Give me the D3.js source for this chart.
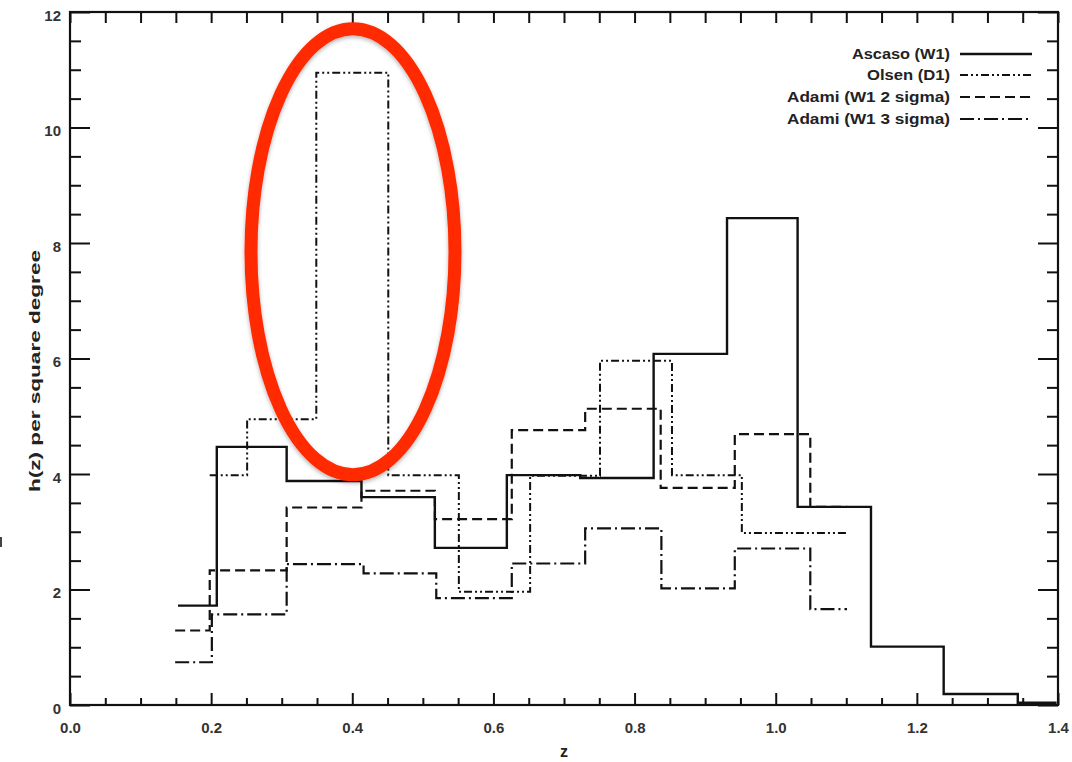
<!DOCTYPE html>
<html>
<head>
<meta charset="utf-8">
<script src="https://cdn.jsdelivr.net/npm/d3@7/dist/d3.min.js"></script>
<style>
  html, body { margin: 0; padding: 0; background: #fff; }
  svg { display: block; }
  .tick text { font-family: "Liberation Sans", Arial, sans-serif; fill: #333; font-weight: bold; }
</style>
</head>
<body>
<svg id="chart" width="1072" height="762"></svg>
<script>
// Cluster redshift distributions, h(z) per square degree, as step histograms.
// Each series: bin edges (z) and bin heights.
const ascasoEdges  = [0.153, 0.208, 0.307, 0.413, 0.517, 0.619, 0.723, 0.827, 0.931, 1.031, 1.135, 1.238, 1.343, 1.398];
const ascasoValues = [1.72, 4.47, 3.88, 3.60, 2.72, 3.98, 3.93, 6.08, 8.43, 3.43, 1.01, 0.19, 0.04];

const olsenEdges  = [0.198, 0.251, 0.349, 0.451, 0.551, 0.652, 0.751, 0.853, 0.952, 1.101];
const olsenValues = [3.98, 4.95, 10.95, 3.98, 1.96, 3.97, 5.96, 3.98, 2.98];

const adami2Edges  = [0.149, 0.198, 0.307, 0.413, 0.517, 0.626, 0.730, 0.837, 0.942, 1.049, 1.101];
const adami2Values = [1.29, 2.33, 3.42, 3.71, 3.22, 4.76, 5.13, 3.76, 4.69, 3.43];

const adami3Edges  = [0.149, 0.201, 0.307, 0.416, 0.519, 0.626, 0.730, 0.838, 0.942, 1.049, 1.101];
const adami3Values = [0.74, 1.57, 2.44, 2.28, 1.85, 2.45, 3.06, 2.02, 2.71, 1.66];

const legendLabels = ["Ascaso (W1)", "Olsen (D1)", "Adami (W1 2 sigma)", "Adami (W1 3 sigma)"];

const xMajorTicks = [0.0, 0.2, 0.4, 0.6, 0.8, 1.0, 1.2, 1.4];
const yMajorTicks = [0, 2, 4, 6, 8, 10, 12];
const xLabel = "z";
const yLabel = "h(z) per square degree";

const svg = d3.select("#chart");
const plotLeft = 70, plotRight = 1058, plotTop = 12, plotBottom = 705;

const x = d3.scaleLinear().domain([0, 1.4]).range([plotLeft, plotRight]);
const y = d3.scaleLinear().domain([0, 12]).range([plotBottom, plotTop]);

const xMinor = d3.range(0, 29).map(i => +(i * 0.05).toFixed(2)).filter(v => !xMajorTicks.some(m => Math.abs(m - v) < 1e-9));
const yMinor = d3.range(0, 25).map(i => i * 0.5).filter(v => v % 2 !== 0);

const font = '"Liberation Sans", Arial, sans-serif';

function styleAxis(g) {
  g.select(".domain").remove();
  g.selectAll(".tick line").attr("stroke", "#111").attr("stroke-width", 2);
}

// bottom axis: labelled majors + minors
svg.append("g").attr("transform", `translate(0,${plotBottom})`)
  .call(d3.axisBottom(x).tickValues(xMajorTicks).tickSize(-12).tickPadding(17).tickFormat(d3.format(".1f")))
  .call(styleAxis)
  .selectAll("text").attr("font-size", 15).attr("font-family", font);
svg.append("g").attr("transform", `translate(0,${plotBottom})`)
  .call(d3.axisBottom(x).tickValues(xMinor).tickSize(-7).tickFormat(""))
  .call(styleAxis);

// top axis
svg.append("g").attr("transform", `translate(0,${plotTop})`)
  .call(d3.axisTop(x).tickValues(xMajorTicks.concat(xMinor)).tickSize(-11).tickFormat(""))
  .call(styleAxis);

// left axis
svg.append("g").attr("transform", `translate(${plotLeft},0)`)
  .call(d3.axisLeft(y).tickValues(yMajorTicks).tickSize(-20).tickPadding(9).tickFormat(d3.format("d")))
  .call(styleAxis)
  .selectAll("text").attr("font-size", 15).attr("font-family", font).attr("dy", "0.55em");
svg.append("g").attr("transform", `translate(${plotLeft},0)`)
  .call(d3.axisLeft(y).tickValues(yMinor).tickSize(-11).tickFormat(""))
  .call(styleAxis);

// right axis
svg.append("g").attr("transform", `translate(${plotRight},0)`)
  .call(d3.axisRight(y).tickValues(yMajorTicks).tickSize(-20).tickFormat(""))
  .call(styleAxis);
svg.append("g").attr("transform", `translate(${plotRight},0)`)
  .call(d3.axisRight(y).tickValues(yMinor).tickSize(-11).tickFormat(""))
  .call(styleAxis);

// frame
svg.append("rect")
  .attr("x", plotLeft).attr("y", plotTop)
  .attr("width", plotRight - plotLeft).attr("height", plotBottom - plotTop)
  .attr("fill", "none").attr("stroke", "#111").attr("stroke-width", 2.2);

// axis titles
svg.append("text")
  .attr("x", (plotLeft + plotRight) / 2).attr("y", 757)
  .attr("text-anchor", "middle")
  .attr("font-family", font).attr("font-size", 16).attr("font-weight", "bold").attr("fill", "#222")
  .text(xLabel);
svg.append("text")
  .attr("transform", "translate(40,371) rotate(-90)")
  .attr("text-anchor", "middle")
  .attr("font-family", font).attr("font-size", 14).attr("font-weight", "bold").attr("fill", "#222")
  .attr("textLength", 242).attr("lengthAdjust", "spacingAndGlyphs")
  .text(yLabel);

// histogram series
const series = [
  { edges: ascasoEdges, values: ascasoValues, dash: null, width: 2.4 },
  { edges: olsenEdges, values: olsenValues, dash: "8,3,2,3,2,3", width: 2 },
  { edges: adami2Edges, values: adami2Values, dash: "10,5", width: 2.2 },
  { edges: adami3Edges, values: adami3Values, dash: "14,4,2,4", width: 2.2 }
];

const step = d3.line()
  .x(d => x(d[0]))
  .y(d => y(d[1]))
  .curve(d3.curveStepAfter);

function stepPoints(edges, values) {
  const pts = values.map((v, i) => [edges[i], v]);
  pts.push([edges[edges.length - 1], values[values.length - 1]]);
  return pts;
}

// draw dashed series first, solid on top
[series[2], series[3], series[1], series[0]].forEach(s => {
  svg.append("path")
    .attr("d", step(stepPoints(s.edges, s.values)))
    .attr("fill", "none")
    .attr("stroke", "#111")
    .attr("stroke-width", s.width)
    .attr("stroke-dasharray", s.dash);
});

// legend
const legendY = [54, 75, 97, 119];
const legendTextLen = [98, 83, 163, 163];
legendLabels.forEach((lab, i) => {
  svg.append("text")
    .attr("x", 950).attr("y", legendY[i]).attr("dy", "0.36em")
    .attr("text-anchor", "end")
    .attr("font-family", font).attr("font-size", 14).attr("font-weight", "bold").attr("fill", "#222")
    .attr("textLength", legendTextLen[i]).attr("lengthAdjust", "spacingAndGlyphs")
    .text(lab);
  svg.append("line")
    .attr("x1", 960).attr("x2", 1032)
    .attr("y1", legendY[i]).attr("y2", legendY[i])
    .attr("stroke", "#111").attr("stroke-width", series[i].width)
    .attr("stroke-dasharray", series[i].dash);
});

// highlight ellipse around the Olsen peak
const defs = svg.append("defs");
const shadow = defs.append("filter").attr("id", "soft-shadow")
  .attr("x", "-20%").attr("y", "-20%").attr("width", "140%").attr("height", "140%");
shadow.append("feDropShadow")
  .attr("dx", 0).attr("dy", 2).attr("stdDeviation", 2)
  .attr("flood-color", "#000").attr("flood-opacity", 0.3);

svg.append("ellipse")
  .attr("cx", x(0.401)).attr("cy", y(7.85))
  .attr("rx", 102).attr("ry", 223)
  .attr("fill", "none")
  .attr("stroke", "#ff2a00")
  .attr("stroke-width", 13)
  .attr("filter", "url(#soft-shadow)");

// small edge mark at the far left
svg.append("rect")
  .attr("x", 0).attr("y", 537).attr("width", 2).attr("height", 10)
  .attr("fill", "#444");
</script>
</body>
</html>
